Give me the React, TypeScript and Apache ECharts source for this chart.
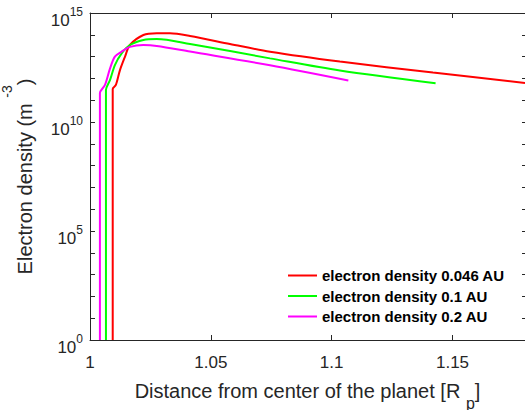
import React, { useEffect, useRef } from 'react';
import * as echarts from 'echarts';

const seriesNames = ['electron density 0.046 AU', 'electron density 0.1 AU', 'electron density 0.2 AU'];
const seriesColors = ['#ff0000', '#00ff00', '#ff00ff'];

// distance from planet center [Rp]
const redX = [1.0094, 1.0094, 1.0107, 1.0124, 1.0145, 1.0165, 1.0221, 1.0276, 1.0331, 1.0414, 1.0579, 1.0745, 1.1034, 1.1419, 1.18];
// electron density [m^-3]
const redY = [1, 3.3e11, 5.0e11, 2.4e12, 1.0e13, 3.4e13, 9.8e13, 1.17e14, 1.17e14, 8.8e13, 3.8e13, 1.66e13, 5.9e12, 1.85e12, 6.2e11];

const greenX = [1.0066, 1.0066, 1.0083, 1.0103, 1.0131, 1.0165, 1.0221, 1.0276, 1.0414, 1.0745, 1.1034, 1.143];
const greenY = [1, 2.9e11, 8.5e11, 4.1e12, 1.4e13, 3.4e13, 5.8e13, 6.4e13, 3.8e13, 8.3e12, 2.3e12, 6.0e11];

const magentaX = [1.0041, 1.0041, 1.0062, 1.0083, 1.0103, 1.0131, 1.0165, 1.0221, 1.0276, 1.0414, 1.0745, 1.1069];
const magentaY = [1, 2.1e11, 5.0e11, 2.9e12, 1.0e13, 1.7e13, 2.8e13, 3.4e13, 3.1e13, 1.7e13, 4.0e12, 8.0e11];

const xMin = 1;
const xMax = 1.18;
const xStep = 0.05;
// y axis in decades (log10 of density)
const yMinDecade = 0;
const yMaxDecade = 15;
const yLabelEvery = 5;

const FONT = '"Liberation Sans", Arial, Helvetica, sans-serif';
const AXIS_COLOR = '#262626';

export default function App() {
  const ref = useRef<HTMLDivElement>(null);
  useEffect(() => {
    if (!ref.current) return;
    const chart = echarts.init(ref.current, undefined, { renderer: 'svg' });
    const xs = [redX, greenX, magentaX];
    const ys = [redY, greenY, magentaY];
    const series = seriesNames.map((name, i) => ({
      name,
      type: 'line',
      data: xs[i].map((x, j) => [x, Math.log10(ys[i][j])]),
      symbol: 'none',
      smooth: 0.3,
      clip: true,
      lineStyle: { color: seriesColors[i], width: 2 },
      itemStyle: { color: seriesColors[i] },
      xAxisIndex: 0,
      yAxisIndex: 0,
    }));
    const yLabelFmt = (v: number) => {
      const e = Math.round(v);
      if (e % yLabelEvery !== 0) return '';
      return `{b|10}{s|${e}}`;
    };
    const baseX = {
      type: 'value',
      min: xMin,
      max: xMax,
      interval: xStep,
      splitLine: { show: false },
      axisLine: { show: true, onZero: false, lineStyle: { color: AXIS_COLOR, width: 1 } },
      axisTick: { show: true, inside: true, length: 5, lineStyle: { color: AXIS_COLOR } },
    };
    const baseY = {
      type: 'value',
      min: yMinDecade,
      max: yMaxDecade,
      interval: 1,
      splitLine: { show: false },
      axisLine: { show: true, onZero: false, lineStyle: { color: AXIS_COLOR, width: 1 } },
    };
    chart.setOption({
      animation: false,
      backgroundColor: '#ffffff',
      grid: { left: 90, right: 0, top: 13, bottom: 70, containLabel: false, outerBoundsMode: 'none' },
      legend: {
        data: seriesNames,
        orient: 'vertical',
        left: 288,
        top: 268,
        padding: 0,
        icon: 'path://M0,0H29V2H0Z',
        itemWidth: 29,
        itemHeight: 14,
        itemGap: 5.5,
        textStyle: { fontFamily: FONT, fontSize: 15, fontWeight: 'bold', color: '#000', lineHeight: 14 },
      },
      xAxis: [
        {
          ...baseX,
          position: 'bottom',
          name: '{n|Distance from center of the planet [R }{sub|p}{n|]}',
          nameLocation: 'middle',
          nameGap: 41,
          nameTextStyle: {
            fontFamily: FONT,
            color: AXIS_COLOR,
            rich: {
              n: { fontFamily: FONT, fontSize: 20, lineHeight: 20, verticalAlign: 'top', color: AXIS_COLOR },
              sub: { fontFamily: FONT, fontSize: 16, lineHeight: 30, verticalAlign: 'bottom', color: AXIS_COLOR },
            },
          },
          axisLabel: {
            show: true,
            margin: 14,
            fontFamily: FONT,
            fontSize: 17,
            color: AXIS_COLOR,
            showMaxLabel: false,
            formatter: (v: number) => String(Math.round(v * 100) / 100),
          },
        },
        {
          ...baseX,
          position: 'top',
          axisLabel: { show: false },
        },
      ],
      yAxis: [
        {
          ...baseY,
          position: 'left',
          name: '{n|Electron density (m }{sup|-3}{n|)}',
          nameLocation: 'middle',
          nameGap: 55,
          nameRotate: 90,
          nameTextStyle: {
            fontFamily: FONT,
            color: AXIS_COLOR,
            rich: {
              n: { fontFamily: FONT, fontSize: 20, lineHeight: 35, verticalAlign: 'bottom', color: AXIS_COLOR },
              sup: { fontFamily: FONT, fontSize: 14, lineHeight: 14, verticalAlign: 'top', color: AXIS_COLOR },
            },
          },
          axisTick: { show: true, inside: true, length: 5, interval: yLabelEvery - 1, lineStyle: { color: AXIS_COLOR } },
          axisLabel: {
            show: true,
            margin: 7,
            interval: 0,
            hideOverlap: false,
            showMinLabel: true,
            showMaxLabel: true,
            padding: [9, 0, 0, 0],
            formatter: yLabelFmt,
            rich: {
              b: { fontFamily: FONT, fontSize: 17, lineHeight: 23, verticalAlign: 'bottom', color: AXIS_COLOR },
              s: { fontFamily: FONT, fontSize: 12, lineHeight: 12, verticalAlign: 'top', color: AXIS_COLOR },
            },
          },
        },
        {
          ...baseY,
          position: 'left',
          axisLine: { show: false },
          axisTick: { show: true, inside: true, length: 3, interval: 0, lineStyle: { color: AXIS_COLOR } },
          axisLabel: { show: false },
        },
        {
          ...baseY,
          position: 'right',
          axisTick: { show: true, inside: true, length: 3, interval: 0, lineStyle: { color: AXIS_COLOR } },
          axisLabel: { show: false },
        },
      ],
      series,
    });
    return () => chart.dispose();
  }, []);
  return (
    <div
      ref={ref}
      style={{ position: 'fixed', left: 0, top: 0, width: 525, height: 410, background: '#fff' }}
    />
  );
}
